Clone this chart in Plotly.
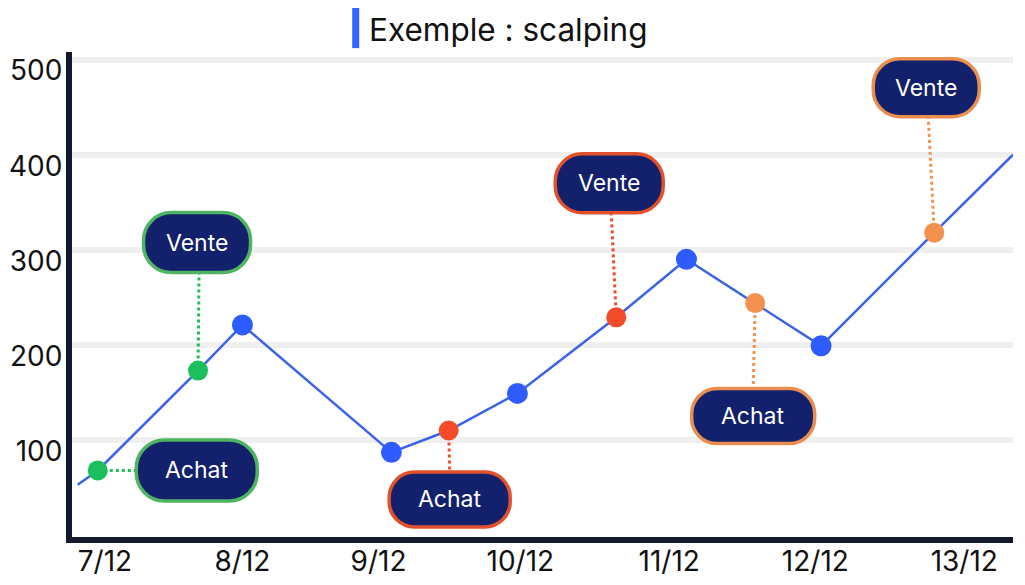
import plotly.graph_objects as go

# Data
jours = [-0.19, -0.05, 0.65, 0.96, 2.0, 2.4, 2.88, 3.57, 4.06, 4.54, 5.0, 5.79, 6.34]
prix = [53, 68, 173, 221, 87, 110, 149, 229, 290, 244, 199, 318, 400]
# signal on each point (None = plain point, "" = line end without marker)
signaux = ["", "Achat", "Vente", None, None, "Achat", None, "Vente", None, "Achat", None, "Vente", ""]
trade = [None, 1, 1, None, None, 2, None, 2, None, 3, None, 3, None]

x_ticks = [0, 0.96, 1.91, 2.9, 3.94, 4.96, 6.0]
x_labels = ["7/12", "8/12", "9/12", "10/12", "11/12", "12/12", "13/12"]
y_ticks = [100, 200, 300, 400, 500]

titre = "Exemple : scalping"

# Styles
bleu_ligne = "#3a63ea"
bleu_point = "#2f5cff"
navy = "#13206b"
couleurs_point = {1: "#1bbf5e", 2: "#f24c2b", 3: "#f3924f"}
couleurs_bord = {1: "#4fb462", 2: "#e2512b", 3: "#ea8e4f"}
# pill placement in pixels relative to the point: (dx, dy, width, height), dy up
bulles = {
    (1, "Achat"): (99, 0, 121, 61),
    (1, "Vente"): (-1, 128, 107, 60),
    (2, "Achat"): (1, -69, 121, 55),
    (2, "Vente"): (-7, 134, 108, 59),
    (3, "Achat"): (-2, -113, 123, 55),
    (3, "Vente"): (-8, 145, 106, 58),
}


def pilule(cx, cy, w, h):
    r = 0.46 * h
    k = 0.5523 * r
    x0, x1 = cx - w / 2, cx + w / 2
    y0, y1 = cy - h / 2, cy + h / 2
    return (f"M {x0+r},{y1} L {x1-r},{y1} C {x1-r+k},{y1} {x1},{y1-r+k} {x1},{y1-r} "
            f"L {x1},{y0+r} C {x1},{y0+r-k} {x1-r+k},{y0} {x1-r},{y0} "
            f"L {x0+r},{y0} C {x0+r-k},{y0} {x0},{y0+r-k} {x0},{y0+r} "
            f"L {x0},{y1-r} C {x0},{y1-r+k} {x0+r-k},{y1} {x0+r},{y1} Z")


fig = go.Figure()

# main price line
fig.add_trace(go.Scatter(x=jours, y=prix, mode="lines",
                         line=dict(color=bleu_ligne, width=2.5), hoverinfo="skip"))

# plain blue points
bx = [x for x, s in zip(jours, signaux) if s is None]
by = [y for y, s in zip(prix, signaux) if s is None]
fig.add_trace(go.Scatter(x=bx, y=by, mode="markers",
                         marker=dict(color=bleu_point, size=21)))

# signal points, connectors and pills
for x, y, s, t in zip(jours, prix, signaux, trade):
    if not s:
        continue
    dx, dy, w, h = bulles[(t, s)]
    fig.add_trace(go.Scatter(x=[x], y=[y], mode="markers",
                             marker=dict(color=couleurs_point[t], size=20)))
    # dotted connector from the point to the pill edge
    if dy == 0:
        ex, ey = dx - w / 2, 0
    elif dy > 0:
        ex, ey = dx + 2, dy - h / 2
    else:
        ex, ey = dx, dy + h / 2
    fig.add_shape(type="line", xref="x", yref="y",
                  xsizemode="pixel", ysizemode="pixel", xanchor=x, yanchor=y,
                  x0=0, y0=0, x1=ex, y1=ey, layer="between",
                  line=dict(color=couleurs_point[t], width=3, dash="dot"))
    fig.add_shape(type="path", xref="x", yref="y",
                  xsizemode="pixel", ysizemode="pixel", xanchor=x, yanchor=y,
                  path=pilule(dx, dy, w, h), fillcolor=navy, layer="above",
                  line=dict(color=couleurs_bord[t], width=3.5))
    fig.add_annotation(x=x, y=y, xshift=dx, yshift=dy, text=s, showarrow=False,
                       font=dict(family="Inter", size=23, color="white"))

# title with blue bar
fig.add_shape(type="line", xref="paper", yref="paper", x0=0.3015, x1=0.3015,
              y0=1.008, y1=1.095, line=dict(color="#3366ff", width=7))
fig.add_annotation(xref="paper", yref="paper", x=0.314, y=1.047, xanchor="left",
                   yanchor="middle", text=titre, showarrow=False,
                   font=dict(family="Inter", size=31.5, color="#111111"))

fig.update_xaxes(
    range=[-0.23, 6.34], tickvals=x_ticks, ticktext=x_labels, automargin=False,
    showgrid=False, zeroline=False, showline=True, linewidth=6, linecolor="#141a2c",
    ticks="", ticklabelstandoff=-6,
    tickfont=dict(family="Inter", size=28, color="#111111"),
)
fig.update_yaxes(
    range=[-2, 508], tickvals=y_ticks, automargin=False,
    showgrid=True, gridcolor="#efefef", gridwidth=6,
    zeroline=False, showline=True, linewidth=6, linecolor="#141a2c",
    ticks="", ticklabelstandoff=-2, ticklabelshift=11,
    tickfont=dict(family="Inter", size=28, color="#111111"),
)

# the page body adds an 8px margin, so the figure is sized 8px smaller
fig.update_layout(
    width=1017, height=577,
    margin=dict(l=64, r=12, t=44, b=48),
    plot_bgcolor="white", paper_bgcolor="white",
    showlegend=False,
)

fig.write_html("out.html")
